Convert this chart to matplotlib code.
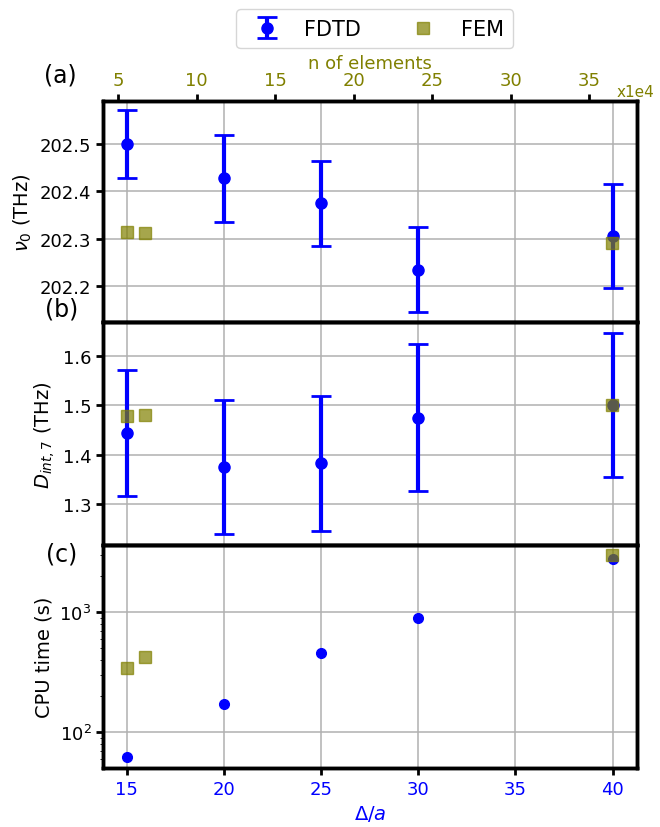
import numpy as np
import matplotlib.pyplot as plt

# FDTD results vs mesh step
dx = [15, 20, 25, 30, 40]
nu0 = [202.500, 202.428, 202.375, 202.235, 202.305]
nu0_err = [0.072, 0.092, 0.090, 0.090, 0.110]
dint = [1.444, 1.375, 1.382, 1.475, 1.501]
dint_err = [0.129, 0.137, 0.137, 0.150, 0.147]
cpu = [62, 172, 460, 899, 2734]

# FEM results vs number of elements (x1e4)
n_fem = [5.53, 6.72, 36.43]
nu0_fem = [202.314, 202.312, 202.292]
dint_fem = [1.478, 1.480, 1.501]
cpu_fem = [341, 421, 2985]

blue = "#0000ff"
olive = "#808000"

plt.rcParams['font.family'] = 'DejaVu Sans'
plt.rcParams['font.size'] = 13

fig = plt.figure(figsize=(6.6, 8.28), dpi=100)
left, width = 0.1565, 0.808
boxes = [(0.6099, 0.2673), (0.340, 0.2699), (0.0716, 0.2684)]
axes = [fig.add_axes([left, b, width, h]) for b, h in boxes]

fdtd_y = [nu0, dint, cpu]
fdtd_e = [nu0_err, dint_err, None]
fem_y = [nu0_fem, dint_fem, cpu_fem]
ylims = [(202.124, 202.592), (1.215, 1.670), (50.8, 3573)]
ylabels = [r"$\nu_0$ (THz)", r"$D_{int,7}$ (THz)", "CPU time (s)"]

handles = []
for i, ax in enumerate(axes):
    if i == 2:
        ax.set_yscale('log')
    ax.set_xlim(13.795, 41.236)
    ax.set_ylim(*ylims[i])
    ax.grid(True, color="#b0b0b0", linewidth=1.1)
    ax.set_axisbelow(True)
    if fdtd_e[i] is not None:
        eb = ax.errorbar(dx, fdtd_y[i], yerr=fdtd_e[i], fmt='o', color=blue,
                         ms=8, elinewidth=3, capsize=7, capthick=2)
        if i == 0:
            handles.append(eb)
    else:
        ax.plot(dx, fdtd_y[i], 'o', color=blue, ms=7)
    ax.set_ylabel(ylabels[i], fontsize=14)
    ax.tick_params(axis='both', width=2, length=5, labelsize=13)
    ax.tick_params(axis='x', labelcolor=blue)
    for s in ax.spines.values():
        s.set_linewidth(2.5)
    if i < 2:
        ax.tick_params(axis='x', bottom=False, labelbottom=False)

    tw = ax.twiny()
    tw.set_xlim(4.045, 38.02)
    fem, = tw.plot(n_fem, fem_y[i], 's', color=olive, alpha=0.7, ms=9)
    for s in tw.spines.values():
        s.set_linewidth(2.5)
    if i == 0:
        handles.append(fem)
        tw.set_xticks([5, 10, 15, 20, 25, 30, 35])
        tw.tick_params(axis='x', width=2, length=5, labelsize=13,
                       labelcolor=olive)
        tw.set_xlabel("n of elements", color=olive, fontsize=13, labelpad=2)
    else:
        tw.tick_params(axis='x', top=False, labeltop=False)

axes[0].set_yticks([202.2, 202.3, 202.4, 202.5])
axes[1].set_yticks([1.3, 1.4, 1.5, 1.6])
axes[2].set_xticks([15, 20, 25, 30, 35, 40])
axes[2].set_xlabel(r"$\Delta/a$", color=blue, fontsize=14)

fig.text(617 / 660, 1 - 97 / 828, "x1e4", color=olive, fontsize=11,
         ha='left', va='baseline')
for lab, (px, py) in zip(["(a)", "(b)", "(c)"], [(60, 75), (62, 309), (62, 555)]):
    fig.text(px / 660, 1 - py / 828, lab, fontsize=17, ha='center', va='center')

fig.legend(handles, ["FDTD", "FEM"], loc='upper center',
           bbox_to_anchor=(0.568, 1.0), ncol=2, fontsize=15,
           columnspacing=2.0, handletextpad=0.8, borderpad=0.45)

fig.savefig("out.png", dpi=100)
